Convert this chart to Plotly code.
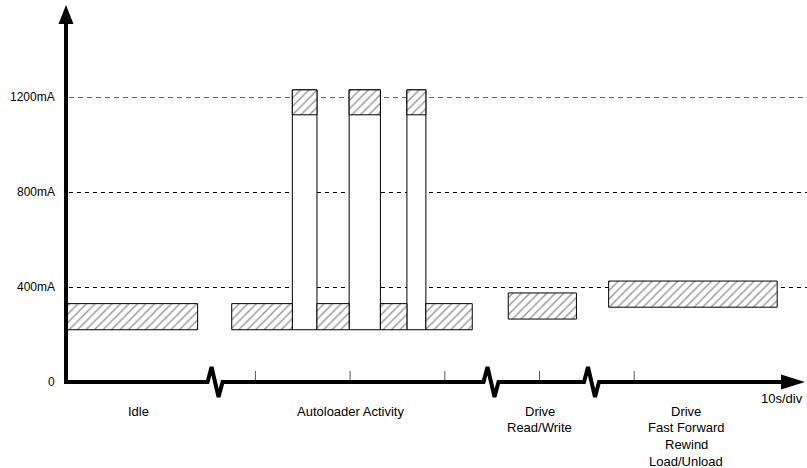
import plotly.graph_objects as go

# ---------------- data ----------------
# hatched current bands: (start s, end s, low mA, high mA)
band_start = [0.0, 17.5, 26.5, 33.2, 38.0, 46.7, 57.3]
band_end   = [13.9, 23.9, 29.9, 36.0, 42.9, 53.9, 75.1]
band_low   = [220, 220, 220, 220, 220, 265, 315]
band_high  = [330, 330, 330, 330, 330, 375, 425]

# autoloader current pulses
pulse_start = [23.9, 29.9, 36.0]
pulse_end   = [26.5, 33.2, 38.0]
pulse_base  = [220, 220, 220]
pulse_low   = [1125, 1125, 1125]   # lower edge of hatched peak region
pulse_high  = [1230, 1230, 1230]

grid_vals   = [400, 800, 1200]
ytick_vals  = [0, 400, 800, 1200]
ytick_text  = ["0", "400mA", "800mA", "1200mA"]
xtick_vals  = [20, 30, 40, 50, 60]
breaks      = [15.74, 44.88, 55.49]

cat_x     = [7.7, 30.0, 50.0, 65.5]
cat_lines = [["Idle"], ["Autoloader Activity"], ["Drive", "Read/Write"],
             ["Drive", "Fast Forward", "Rewind", "Load/Unload"]]

# ---------------- geometry ----------------
W, H = 807, 468
X0PX, Y0PX = 66, 382
PX_PER_S = 9.47
PX_PER_MA = 0.2375
xr = [-X0PX / PX_PER_S, (W - X0PX) / PX_PER_S]
yr = [-(H - Y0PX) / PX_PER_MA, Y0PX / PX_PER_MA]

def dx(px):  # pixel length -> seconds
    return px / PX_PER_S

def dy(px):  # pixel length -> mA
    return px / PX_PER_MA

FONT = "Liberation Sans, Arial, Helvetica, sans-serif"
hatch = dict(shape="/", fgcolor="#222222", bgcolor="white", size=6, solidity=0.22)

fig = go.Figure()

# tall pulses (white body)
fig.add_trace(go.Bar(
    x=[(a + b) / 2 for a, b in zip(pulse_start, pulse_end)],
    width=[b - a for a, b in zip(pulse_start, pulse_end)],
    base=pulse_base,
    y=[h - l for h, l in zip(pulse_high, pulse_base)],
    marker=dict(color="white", line=dict(color="black", width=1)),
    hoverinfo="skip", showlegend=False))
# hatched peak region of pulses
fig.add_trace(go.Bar(
    x=[(a + b) / 2 for a, b in zip(pulse_start, pulse_end)],
    width=[b - a for a, b in zip(pulse_start, pulse_end)],
    base=pulse_low,
    y=[h - l for h, l in zip(pulse_high, pulse_low)],
    marker=dict(color="white", pattern=hatch, line=dict(color="black", width=1)),
    hoverinfo="skip", showlegend=False))
# hatched bands
fig.add_trace(go.Bar(
    x=[(a + b) / 2 for a, b in zip(band_start, band_end)],
    width=[b - a for a, b in zip(band_start, band_end)],
    base=band_low,
    y=[h - l for h, l in zip(band_high, band_low)],
    marker=dict(color="white", pattern=hatch, line=dict(color="black", width=1)),
    hoverinfo="skip", showlegend=False))

# x axis line with zig-zag breaks
ax_x = [0]
ax_y = [0]
for b in breaks:
    ax_x += [b - dx(7.5), b - dx(3.5), b + dx(3.5), b + dx(7.5)]
    ax_y += [0, dy(15), -dy(15), 0]
x_arrow_base = xr[1] - dx(24)
ax_x.append(x_arrow_base)
ax_y.append(0)
fig.add_trace(go.Scatter(x=ax_x, y=ax_y, mode="lines",
                         line=dict(color="black", width=4),
                         hoverinfo="skip", showlegend=False))
# y axis line
y_arrow_base = yr[1] - dy(22)
fig.add_trace(go.Scatter(x=[0, 0], y=[-dy(2), y_arrow_base], mode="lines",
                         line=dict(color="black", width=4),
                         hoverinfo="skip", showlegend=False))

shapes = []
# arrowheads
tipx = xr[1] - dx(2)
shapes.append(dict(type="path", xref="x", yref="y", line=dict(width=0), fillcolor="black",
                   path=f"M {x_arrow_base - dx(2)} {dy(7.5)} L {tipx} 0 L {x_arrow_base - dx(2)} {-dy(7.5)} Z"))
tipy = yr[1] - dy(5)
shapes.append(dict(type="path", xref="x", yref="y", line=dict(width=0), fillcolor="black",
                   path=f"M {-dx(7.5)} {y_arrow_base - dy(2)} L 0 {tipy} L {dx(7.5)} {y_arrow_base - dy(2)} Z"))
# dashed gridlines (half-pixel offset for crisp 1px rendering)
for v in grid_vals:
    yv = v - dy(0.5)
    shapes.append(dict(type="line", xref="x", yref="y", x0=dx(3), x1=xr[1], y0=yv, y1=yv,
                       line=dict(color="#000000" if v < 1200 else "#666666", width=1,
                                 dash="4px,4px" if v < 1200 else "5px,4px"),
                       layer="below"))
# x ticks
for t in xtick_vals:
    shapes.append(dict(type="line", xref="x", yref="y", x0=t, x1=t, y0=dy(2), y1=dy(11),
                       line=dict(color="#555555", width=1)))

annotations = []
for v, t in zip(ytick_vals, ytick_text):
    annotations.append(dict(x=-dx(9), y=v, xref="x", yref="y", text=t, showarrow=False,
                            xanchor="right", yanchor="middle",
                            font=dict(family=FONT, size=12, color="black")))
for cx, lines in zip(cat_x, cat_lines):
    for i, ln in enumerate(lines):
        annotations.append(dict(x=cx, y=-dy(29 + 16.7 * i), xref="x", yref="y", text=ln,
                                showarrow=False, xanchor="center", yanchor="middle",
                                font=dict(family=FONT, size=13, color="black")))
annotations.append(dict(x=xr[1] - dx(25), y=-dy(16), xref="x", yref="y", text="10s/div",
                        showarrow=False, xanchor="center", yanchor="middle",
                        font=dict(family=FONT, size=13, color="black")))

fig.update_layout(
    width=W, height=H,
    margin=dict(l=0, r=0, t=0, b=0),
    paper_bgcolor="white", plot_bgcolor="white",
    barmode="overlay", bargap=0,
    xaxis=dict(range=xr, visible=False, fixedrange=True),
    yaxis=dict(range=yr, visible=False, fixedrange=True),
    shapes=shapes, annotations=annotations,
    showlegend=False,
)

fig.write_html("out.html", config={"displayModeBar": False, "staticPlot": True},
               post_script="document.body.style.margin='0px';document.body.style.overflow='hidden';")
